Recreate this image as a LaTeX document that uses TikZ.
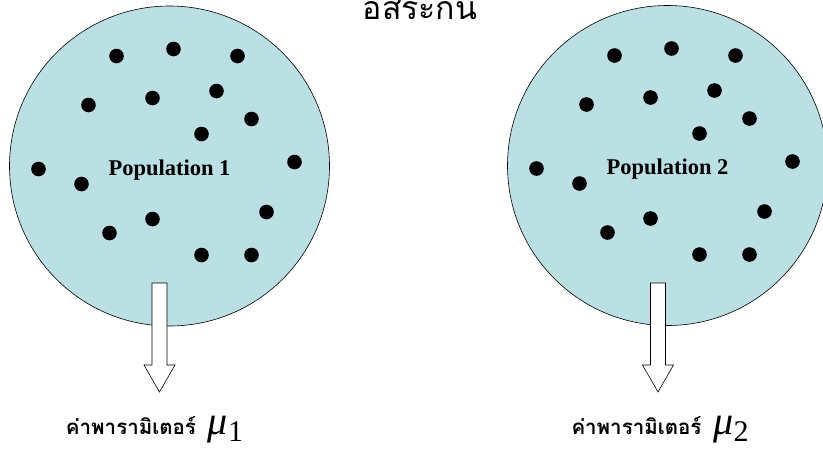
\documentclass[tikz,border=0pt]{standalone}
\usepackage{fontspec}
\setmainfont{Liberation Serif}
\newfontfamily\thaifont[Script=Thai]{Loma}
\usetikzlibrary{positioning}
\definecolor{poolblue}{RGB}{187,224,227}
\newcommand{\parmu}[1]{\hspace{12pt}{\rmfamily\fontsize{40}{40}\selectfont\mdseries\itshape μ}%
  \raisebox{-7pt}{\rmfamily\fontsize{30}{30}\selectfont\mdseries #1}}

\begin{document}
\begin{tikzpicture}[x=1pt, y=-1pt,
    pool/.style={draw, circle, fill=poolblue, minimum size=320pt, inner sep=0pt,
      line width=0.6pt},
    poplabel/.style={font=\fontsize{22.5}{26}\selectfont\bfseries, yshift=-4pt},
    param/.style={inner sep=0pt, anchor=base, font=\fontsize{20.5}{26}\selectfont\thaifont\bfseries},
    outarrow/.style={draw, fill=white, line width=0.6pt}]
    \useasboundingbox (0,0) rectangle (823,448);
    \node[pool, label={[poplabel]center:Population 1}] (p1) at (169.5,166) {};
    \node[pool, label={[poplabel]center:Population 2}] (p2) at (667.5,165.5) {};
    % sample points, same pattern in both populations
    \foreach \pop in {p1,p2}{
      \foreach \dx/\dy in {-53/-110, 4/-117, 68/-110, -81/-61, -17/-68, 47/-75,
          82/-47, 32/-32, -131/3, -88/18, 125/-4, 97/46, -17/53, -60/67, 32/89, 82/89}
        \fill ([shift={(\dx,\dy)}]\pop.center) circle (7.3);
    }
    \coordinate (a1) at (159.5,283);
    \coordinate (a2) at (658,283);
    \foreach \a in {a1,a2}
      \draw[outarrow, shift={(\a)}] (-7.5,0) -- (7.5,0) -- (7.5,82) -- (15.5,82)
        -- (0,109) -- (-15.5,82) -- (-7.5,82) -- cycle;
    \node[param] (m1) at (154.5,434) {ค่าพารามิเตอร์\parmu{1}};
    \node[param] (m2) at (660,434) {ค่าพารามิเตอร์\parmu{2}};
    \node[anchor=base, font=\fontsize{32}{36}\selectfont\thaifont] (t) at (420,19) {อิสระกัน};
\end{tikzpicture}
\end{document}
